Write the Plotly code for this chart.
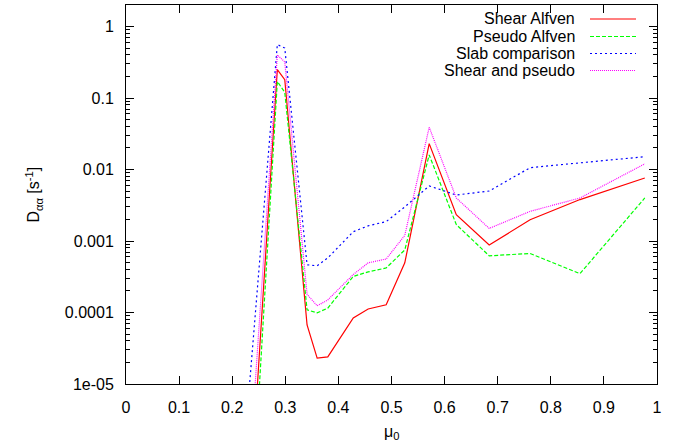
import plotly.graph_objects as go
import numpy as np

# ---- data ----
mu0 = [0.230, 0.285, 0.299, 0.341, 0.360, 0.380, 0.428, 0.456, 0.490,
       0.525, 0.571, 0.622, 0.684, 0.761, 0.855, 0.977]

shear_alfven = [8.5e-8, 0.25, 0.18, 6.7e-5, 2.3e-5, 2.4e-5, 8.4e-5, 1.12e-4, 1.28e-4,
                4.95e-4, 0.023, 2.33e-3, 8.8e-4, 1.98e-3, 3.8e-3, 7.6e-3]
pseudo_alfven = [2.0e-8, 0.17, 0.12, 1.09e-4, 9.9e-5, 1.15e-4, 3.2e-4, 3.7e-4, 4.2e-4,
                 7.5e-4, 0.016, 1.7e-3, 6.2e-4, 6.7e-4, 3.5e-4, 4.0e-3]
slab_comparison = [5.6e-6, 0.56, 0.50, 4.65e-4, 4.5e-4, 5.8e-4, 1.35e-3, 1.63e-3, 1.87e-3,
                   3.0e-3, 5.9e-3, 4.4e-3, 5.0e-3, 0.0106, 0.0124, 0.0151]
shear_and_pseudo = [3.4e-7, 0.40, 0.32, 1.8e-4, 1.24e-4, 1.5e-4, 3.4e-4, 4.95e-4, 5.6e-4,
                    1.2e-3, 0.039, 4.0e-3, 1.5e-3, 2.6e-3, 4.0e-3, 0.012]

series_names = ["Shear Alfven", "Pseudo Alfven", "Slab comparison", "Shear and pseudo"]
series_vals = [shear_alfven, pseudo_alfven, slab_comparison, shear_and_pseudo]
colors = ["#ff0000", "#00ff00", "#0000ff", "#ff00ff"]
dashes = ["solid", "4px,2px", "2px,3px", "1px,1px"]

x_tickvals = [0, 0.1, 0.2, 0.3, 0.4, 0.5, 0.6, 0.7, 0.8, 0.9, 1.0]
x_ticktext = ["0", "0.1", "0.2", "0.3", "0.4", "0.5", "0.6", "0.7", "0.8", "0.9", "1"]
y_tickvals = [1e-5, 1e-4, 1e-3, 1e-2, 1e-1, 1]
y_ticktext = ["1e-05", "0.0001", "0.001", "0.01", "0.1", "1"]

FONT = "Liberation Sans, Arial, sans-serif"

fig = go.Figure()
for name, vals, c, d in zip(series_names, series_vals, colors, dashes):
    fig.add_trace(go.Scatter(x=mu0, y=vals, mode="lines", name=name,
                             line=dict(color=c, width=1.2, dash=d),
                             showlegend=False))

minor_vals = []
for e in range(-5, 1):
    for m in range(2, 10):
        v = m * 10.0 ** e
        if v <= 2:
            minor_vals.append(v)

fig.update_layout(
    width=684, height=443,
    margin=dict(l=126, r=27, t=5, b=59),
    plot_bgcolor="white", paper_bgcolor="white",
    font=dict(family=FONT, size=16, color="black"),
    xaxis=dict(range=[0, 1], tickmode="array", tickvals=x_tickvals, ticktext=x_ticktext,
               ticks="inside", ticklen=8, tickcolor="black", showline=True, linecolor="black",
               linewidth=1, mirror="ticks", showgrid=False, zeroline=False,
               ticklabelstandoff=9),
    yaxis=dict(type="log", range=[-5, np.log10(2)], tickmode="array", tickvals=y_tickvals,
               ticktext=y_ticktext, ticks="inside", ticklen=8, tickcolor="black",
               showline=True, linecolor="black", linewidth=1, mirror="ticks",
               showgrid=False, zeroline=False, ticklabelstandoff=8,
               minor=dict(tickvals=minor_vals, ticks="inside", ticklen=4, tickcolor="black",
                          showgrid=False)),
)

# axis titles
fig.add_annotation(text="D<sub>αα</sub> [s<sup>-1</sup>]", xref="paper", yref="paper",
                   x=-0.175, y=0.5, textangle=-90, showarrow=False,
                   xanchor="center", yanchor="middle", font=dict(size=16))
fig.add_annotation(text="μ<sub>0</sub>", xref="paper", yref="paper",
                   x=0.5, y=-0.129, showarrow=False, xanchor="center", yanchor="middle",
                   font=dict(size=16))

# legend (text right-aligned, sample line to the right, as in the reference)
leg_y_px = [19, 36.5, 53.5, 70.5]
for name, c, d, ypx in zip(series_names, colors, dashes, leg_y_px):
    yp = (384 - ypx) / 379
    fig.add_annotation(text=name, xref="paper", yref="paper", x=(577 - 126) / 531, y=yp,
                       xanchor="right", yanchor="middle", showarrow=False,
                       font=dict(size=16))
    fig.add_shape(type="line", xref="paper", yref="paper",
                  x0=(590 - 126) / 531, x1=(636 - 126) / 531, y0=yp, y1=yp,
                  line=dict(color=c, width=1.2, dash=d))

fig.write_html("out.html")
